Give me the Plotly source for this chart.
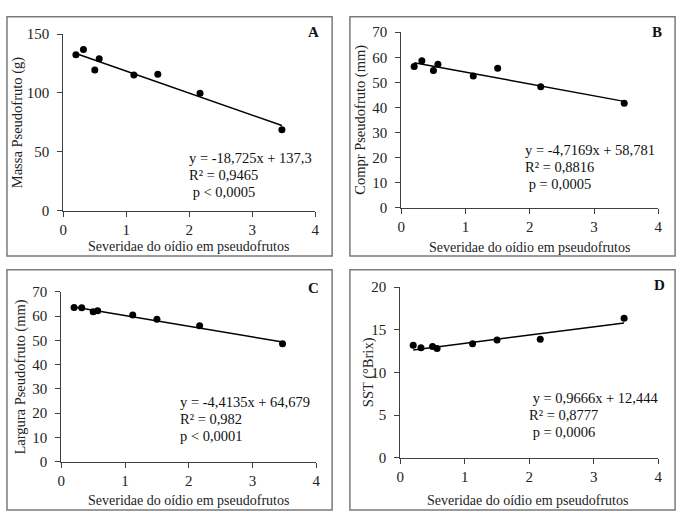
import plotly.graph_objects as go

W, H = 686, 520

# ---- data ----
severity = [0.2, 0.32, 0.5, 0.57, 1.12, 1.5, 2.17, 3.47]
massa = [132.6, 137.0, 119.5, 129.2, 115.2, 116.0, 99.8, 68.8]
compr = [56.3, 58.6, 54.7, 57.2, 52.5, 55.6, 48.2, 41.7]
largura = [63.6, 63.5, 61.8, 62.3, 60.5, 58.7, 56.1, 48.6]
sst = [13.2, 12.9, 13.05, 12.8, 13.35, 13.8, 13.9, 16.35]

slopes = [-18.725, -4.7169, -4.4135, 0.9666]
intercepts = [137.3, 58.781, 64.679, 12.444]
eq_texts = [
    ["y = -18,725x + 137,3", "R² = 0,9465", " p < 0,0005"],
    ["y = -4,7169x + 58,781", "R² = 0,8816", " p = 0,0005"],
    ["y = -4,4135x + 64,679", "R² = 0,982", "p < 0,0001"],
    [" y = 0,9666x + 12,444", "R² = 0,8777", " p = 0,0006"],
]
ylabels = ["Massa Pseudofruto (g)", "Compr Pseudofruto (mm)",
           "Largura Pseudofruto (mm)", "SST (°Brix)"]
xlabel = "Severidae do oídio em pseudofrutos"
letters = ["A", "B", "C", "D"]
yranges = [(0, 150), (0, 70), (0, 70), (0, 20)]
ydticks = [50, 10, 10, 5]
series = [massa, compr, largura, sst]

# ---- layout in pixels ----
def px(x):
    return x / W

def py(y):
    return (H - y) / H

plot_px = [  # x0, x1, ytop, ybottom
    (60, 315, 27, 209),
    (402, 662, 25, 206),
    (58, 316, 293, 468),
    (401, 662, 288, 464),
]
frames = [(3, 332, 9, 256), (350, 679, 9, 256), (3, 332, 270, 518), (350, 679, 270, 518)]
eq_pos = [(185, 155), (525, 147), (176, 407), (529, 402)]
letter_pos = [(313, 25), (661, 25), (313, 289), (663, 286)]
ytitle_x = [14, 361, 17, 369]
xtitle_pos = [(187, 246), (532, 247), (187, 508), (530, 508)]

FONT = "Liberation Serif"
fig = go.Figure()
annotations = []
shapes = []

for i in range(4):
    xa = "x" if i == 0 else f"x{i+1}"
    ya = "y" if i == 0 else f"y{i+1}"
    fig.add_trace(go.Scatter(
        x=severity, y=series[i], mode="markers",
        marker=dict(color="black", size=7),
        xaxis=xa, yaxis=ya, showlegend=False))
    xs = [min(severity), max(severity)]
    fig.add_trace(go.Scatter(
        x=xs, y=[slopes[i] * v + intercepts[i] for v in xs], mode="lines",
        line=dict(color="black", width=1.5),
        xaxis=xa, yaxis=ya, showlegend=False))

    x0, x1, yt, yb = plot_px[i]
    axis_common = dict(showgrid=False, zeroline=False, showline=True,
                       linecolor="#404040", linewidth=1.2, ticks="outside",
                       ticklen=5, tickcolor="#404040",
                       tickfont=dict(family=FONT, size=15, color="#222"))
    fig.layout[("xaxis" if i == 0 else f"xaxis{i+1}")] = dict(
        domain=[px(x0), px(x1)], range=[0, 4], dtick=1, tick0=0,
        anchor=ya, **axis_common)
    fig.layout[("yaxis" if i == 0 else f"yaxis{i+1}")] = dict(
        domain=[py(yb), py(yt)], range=list(yranges[i]), dtick=ydticks[i], tick0=0,
        anchor=xa, ticklabelstandoff=5, **axis_common)

    fx0, fx1, fy0, fy1 = frames[i]
    shapes.append(dict(type="rect", xref="paper", yref="paper",
                       x0=px(fx0), x1=px(fx1), y0=py(fy1), y1=py(fy0),
                       line=dict(color="#7a7a7a", width=1.5)))

    ex, ey = eq_pos[i]
    for k, t in enumerate(eq_texts[i]):
        annotations.append(dict(text=t, xref="paper", yref="paper",
                                x=px(ex), y=py(ey + k * 17.5), xanchor="left",
                                yanchor="middle", showarrow=False,
                                font=dict(family=FONT, size=14.5, color="#111")))
    lx, ly = letter_pos[i]
    annotations.append(dict(text=f"<b>{letters[i]}</b>", xref="paper", yref="paper",
                            x=px(lx), y=py(ly), xanchor="center", yanchor="middle",
                            showarrow=False, font=dict(family=FONT, size=15, color="#111")))
    annotations.append(dict(text=ylabels[i], xref="paper", yref="paper",
                            x=px(ytitle_x[i]), y=py((yt + yb) / 2), textangle=-90,
                            xanchor="center", yanchor="middle", showarrow=False,
                            font=dict(family=FONT, size=14.5, color="#222")))
    tx, ty = xtitle_pos[i]
    annotations.append(dict(text=xlabel, xref="paper", yref="paper",
                            x=px(tx), y=py(ty), xanchor="center", yanchor="middle",
                            showarrow=False, font=dict(family=FONT, size=14, color="#222")))

fig.update_layout(width=W, height=H, margin=dict(l=0, r=0, t=0, b=0),
                  paper_bgcolor="white", plot_bgcolor="white",
                  annotations=annotations, shapes=shapes)

fig.write_html("out.html", config={"displayModeBar": False},
               post_script="document.body.style.margin='0px';document.body.style.overflow='hidden';")
